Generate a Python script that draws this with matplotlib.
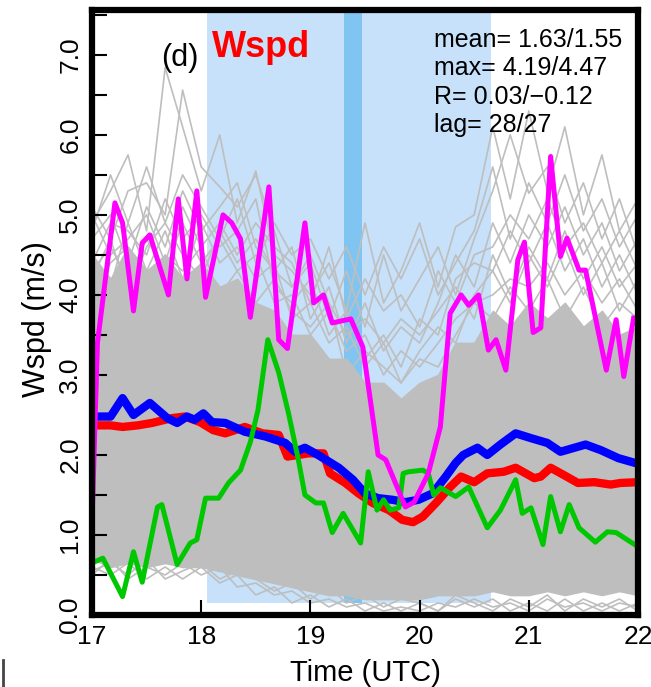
import matplotlib
matplotlib.use("Agg")
import matplotlib.pyplot as plt
from matplotlib.lines import Line2D
from matplotlib.ticker import MultipleLocator, FuncFormatter

plt.rcParams['font.family'] = ['Liberation Sans', 'DejaVu Sans']

# observed / simulated wind speed traces (time in UTC hours, m/s)
mag_t = [17.0, 17.05, 17.21, 17.28, 17.38, 17.46, 17.53, 17.70, 17.79, 17.87, 17.96, 18.04, 18.20,
         18.28, 18.36, 18.45, 18.62, 18.71, 18.79, 18.95, 19.03, 19.12, 19.20, 19.37, 19.48, 19.62,
         19.69, 19.87, 19.95, 20.08, 20.19, 20.28, 20.38, 20.45, 20.54, 20.63, 20.70, 20.79, 20.90,
         20.96, 21.04, 21.11, 21.20, 21.29, 21.35, 21.46, 21.52, 21.71, 21.80, 21.87, 21.96]
mag_v = [1.15, 3.4, 5.15, 4.9, 3.8, 4.65, 4.75, 4.0, 5.2, 4.2, 5.3, 3.97, 5.0,
         4.9, 4.7, 3.72, 5.35, 3.44, 3.33, 4.9, 3.9, 4.0, 3.65, 3.7, 3.35, 2.0,
         1.94, 1.35, 1.41, 1.77, 2.35, 3.77, 4.0, 3.87, 4.0, 3.31, 3.44, 3.06, 4.44,
         4.66, 3.53, 3.59, 5.73, 4.48, 4.71, 4.31, 4.31, 3.06, 3.69, 2.98, 3.71]

blue_t = [17.0, 17.17, 17.28, 17.38, 17.53, 17.69, 17.78, 17.87, 17.94, 18.02, 18.10, 18.22, 18.40,
          18.59, 18.77, 18.86, 18.95, 19.07, 19.26, 19.39, 19.50, 19.62, 19.75, 19.87, 19.99, 20.12,
          20.24, 20.33, 20.40, 20.53, 20.62, 20.74, 20.88, 21.02, 21.17, 21.29, 21.52, 21.66, 21.82, 22.0]
blue_v = [2.48, 2.48, 2.71, 2.50, 2.65, 2.46, 2.40, 2.48, 2.44, 2.52, 2.41, 2.40, 2.29,
          2.23, 2.15, 2.04, 2.09, 2.00, 1.84, 1.69, 1.52, 1.46, 1.44, 1.41, 1.44, 1.52,
          1.73, 1.90, 2.00, 2.09, 2.00, 2.13, 2.27, 2.21, 2.15, 2.04, 2.13, 2.06, 1.96, 1.89]

red_t = [17.0, 17.17, 17.28, 17.42, 17.55, 17.73, 17.85, 17.99, 18.11, 18.22, 18.40, 18.56, 18.71,
         18.79, 18.89, 18.98, 19.12, 19.18, 19.32, 19.44, 19.57, 19.72, 19.84, 19.94, 20.03, 20.15,
         20.28, 20.38, 20.50, 20.62, 20.77, 20.88, 21.05, 21.11, 21.20, 21.32, 21.45, 21.60, 21.75,
         21.84, 22.0]
red_v = [2.37, 2.37, 2.35, 2.37, 2.40, 2.46, 2.48, 2.41, 2.31, 2.27, 2.35, 2.27, 2.25,
         1.98, 2.00, 2.02, 2.02, 1.77, 1.65, 1.52, 1.40, 1.31, 1.19, 1.16, 1.23, 1.40,
         1.60, 1.73, 1.66, 1.77, 1.79, 1.84, 1.71, 1.73, 1.84, 1.75, 1.65, 1.66, 1.63,
         1.65, 1.66]

green_t = [17.0, 17.10, 17.28, 17.38, 17.46, 17.60, 17.64, 17.78, 17.90, 17.96, 18.04, 18.16, 18.25,
           18.36, 18.45, 18.52, 18.61, 18.71, 18.80, 18.89, 18.95, 19.05, 19.12, 19.20, 19.30, 19.46,
           19.53, 19.61, 19.67, 19.73, 19.81, 19.85, 19.90, 20.03, 20.08, 20.13, 20.19, 20.33, 20.45,
           20.62, 20.74, 20.88, 20.94, 21.02, 21.13, 21.20, 21.29, 21.37, 21.46, 21.61, 21.72, 21.80,
           21.97]
green_v = [0.65, 0.71, 0.23, 0.79, 0.41, 1.35, 1.38, 0.63, 0.90, 0.94, 1.46, 1.46, 1.65,
           1.81, 2.16, 2.56, 3.44, 3.03, 2.52, 1.94, 1.50, 1.40, 1.40, 1.03, 1.27, 0.90,
           1.79, 1.31, 1.44, 1.31, 1.34, 1.77, 1.79, 1.81, 1.77, 1.50, 1.59, 1.48, 1.60,
           1.09, 1.31, 1.69, 1.27, 1.34, 0.88, 1.48, 1.04, 1.38, 1.09, 0.91, 1.04, 1.03,
           0.88]

# ensemble members: dense core band plus the members sticking out of it (10-min steps)
ens_t = [17.0, 17.17, 17.33, 17.5, 17.67, 17.83, 18.0, 18.17, 18.33, 18.5, 18.67, 18.83, 19.0,
         19.17, 19.33, 19.5, 19.67, 19.83, 20.0, 20.17, 20.33, 20.5, 20.67, 20.83, 21.0, 21.17,
         21.33, 21.5, 21.67, 21.83, 22.0]
core_hi = [4.5, 4.2, 4.6, 4.3, 4.5, 4.2, 4.4, 4.1, 4.2, 3.9, 3.8, 3.5, 3.5, 3.2, 3.2, 2.9,
           2.9, 2.7, 2.9, 3.0, 3.4, 3.4, 3.8, 3.6, 3.9, 3.7, 3.9, 3.6, 3.8, 3.5, 3.6]
core_lo = [0.7, 0.6, 0.65, 0.6, 0.65, 0.6, 0.6, 0.55, 0.5, 0.45, 0.4, 0.35, 0.3, 0.25, 0.25, 0.2,
           0.2, 0.2, 0.2, 0.25, 0.25, 0.25, 0.3, 0.25, 0.25, 0.3, 0.25, 0.3, 0.25, 0.3, 0.25]
ens_members = [
    [4.9, 5.3, 5.75, 4.8, 6.84, 6.1, 5.3, 6.0, 4.9, 5.55, 4.5, 4.3, 4.0, 4.4, 3.8, 4.9,
     3.9, 4.3, 4.9, 4.1, 4.85, 5.0, 6.1, 5.2, 6.3, 5.3, 6.1, 5.0, 5.75, 4.8, 5.2],
    [5.1, 4.7, 5.3, 5.4, 5.0, 6.56, 5.6, 5.35, 5.1, 5.5, 4.8, 4.1, 4.4, 3.7, 4.3, 3.6,
     4.5, 3.8, 4.2, 4.6, 4.0, 4.7, 5.3, 6.0, 5.27, 5.6, 4.9, 5.4, 4.7, 5.2, 4.5],
    [4.7, 5.0, 4.4, 5.1, 4.6, 5.3, 4.8, 5.1, 5.4, 4.6, 4.3, 4.6, 3.7, 4.1, 3.4, 3.9,
     3.3, 3.6, 3.4, 3.9, 4.5, 4.1, 4.9, 4.4, 5.0, 4.6, 5.1, 4.5, 4.9, 4.3, 4.7],
    [4.4, 4.9, 4.8, 4.5, 5.2, 4.7, 5.0, 4.6, 4.8, 5.2, 4.1, 3.9, 4.2, 3.5, 3.8, 3.2,
     3.5, 3.1, 3.7, 3.5, 4.2, 4.4, 4.3, 4.8, 4.4, 4.9, 4.3, 4.7, 4.1, 4.5, 4.0],
    [4.3, 4.6, 4.2, 4.7, 4.3, 4.9, 4.4, 4.7, 4.3, 4.5, 3.9, 4.0, 3.5, 3.8, 3.3, 3.5,
     3.0, 3.3, 3.1, 3.4, 3.7, 3.9, 4.0, 4.2, 4.1, 4.4, 4.0, 4.3, 3.9, 4.2, 3.8],
    [4.5, 4.1, 4.9, 4.3, 4.8, 4.2, 4.9, 4.4, 4.6, 4.2, 4.4, 3.7, 3.9, 3.4, 3.6, 3.1,
     3.4, 2.9, 3.3, 3.6, 3.4, 4.0, 4.3, 3.9, 4.5, 4.1, 4.6, 4.0, 4.4, 3.8, 4.2],
    [5.0, 4.5, 4.7, 5.0, 4.4, 5.1, 4.6, 4.9, 4.5, 4.9, 4.6, 4.4, 3.9, 4.6, 3.7, 4.2,
     3.8, 4.0, 3.6, 4.3, 3.9, 4.5, 4.6, 5.0, 4.7, 5.2, 4.6, 4.9, 4.4, 4.8, 4.3],
    [4.2, 4.7, 4.0, 4.6, 4.9, 4.5, 4.2, 4.8, 4.4, 4.7, 4.3, 4.1, 4.5, 3.9, 3.5, 3.7,
     3.4, 3.7, 3.5, 3.8, 4.1, 3.7, 4.5, 4.0, 4.6, 4.2, 4.8, 4.2, 4.6, 4.1, 4.4],
    [4.8, 5.5, 4.9, 5.6, 4.9, 5.5, 5.1, 4.7, 5.2, 4.4, 4.9, 4.5, 4.7, 4.2, 4.6, 4.0,
     4.6, 4.2, 4.7, 4.0, 4.4, 4.8, 5.6, 4.7, 5.4, 4.9, 5.5, 4.8, 5.2, 4.6, 5.0],
    [3.9, 4.4, 4.6, 4.1, 4.5, 4.3, 4.6, 4.0, 4.3, 3.9, 4.2, 3.8, 3.6, 3.9, 3.0, 3.3,
     3.1, 2.9, 3.2, 3.1, 3.5, 3.9, 3.7, 4.1, 3.8, 4.2, 3.7, 4.1, 3.6, 3.9, 3.7],
    [0.5, 0.7, 0.45, 0.6, 0.5, 0.65, 0.5, 0.6, 0.35, 0.4, 0.25, 0.3, 0.15, 0.2, 0.1, 0.15,
     0.05, 0.1, 0.05, 0.15, 0.1, 0.2, 0.1, 0.15, 0.05, 0.2, 0.1, 0.15, 0.05, 0.15, 0.1],
    [0.6, 0.5, 0.65, 0.45, 0.6, 0.45, 0.6, 0.4, 0.5, 0.25, 0.35, 0.15, 0.25, 0.1, 0.2, 0.05,
     0.15, 0.05, 0.15, 0.05, 0.2, 0.1, 0.2, 0.05, 0.15, 0.05, 0.2, 0.05, 0.15, 0.05, 0.15],
    [0.55, 0.65, 0.5, 0.7, 0.45, 0.55, 0.65, 0.45, 0.55, 0.45, 0.3, 0.4, 0.2, 0.35, 0.15, 0.25,
     0.1, 0.2, 0.15, 0.05, 0.25, 0.15, 0.05, 0.2, 0.1, 0.25, 0.05, 0.2, 0.1, 0.2, 0.05],
]

# shaded periods
shade_span = (18.05, 20.65)
band_span = (19.31, 19.47)
shade_floor = 0.15

stats_lines = ["mean= 1.63/1.55", "max= 4.19/4.47", "R= 0.03/\u22120.12", "lag= 28/27"]

YTOP = 7.56

fig = plt.figure(figsize=(6.51, 6.87), dpi=100)
ax = fig.add_axes([0.1413, 0.1048, 0.8387, 0.8806])
ax.set_xlim(17, 22)
ax.set_ylim(0, YTOP)

ax.axvspan(*shade_span, ymin=shade_floor / YTOP, ymax=1, color='#c6e1f9', lw=0, zorder=0)
ax.axvspan(*band_span, ymin=shade_floor / YTOP, ymax=1, color='#80c5f2', lw=0, zorder=0.5)

ax.fill_between(ens_t, core_lo, core_hi, color='#bebebe', lw=1.2, edgecolor='#bebebe', zorder=1)
for m in ens_members:
    ax.plot(ens_t, m, color='#bebebe', lw=1.2, zorder=1)

ax.plot(red_t, red_v, color='#ff0000', lw=6, solid_joinstyle='round', zorder=2)
ax.plot(blue_t, blue_v, color='#0000ff', lw=6, solid_joinstyle='round', zorder=3)
ax.plot(green_t, green_v, color='#00c800', lw=3.6, solid_joinstyle='round', zorder=4)
ax.plot(mag_t, mag_v, color='#ff00ff', lw=3.6, solid_joinstyle='round', zorder=5)

ax.text(17.807, 6.86, "(d)", fontsize=22, ha='center', va='baseline', zorder=6)
ax.text(18.10, 6.975, "Wspd", fontsize=26, fontweight='bold', color='#ff0000',
        ha='left', va='baseline', zorder=6)
for i, s in enumerate(stats_lines):
    ax.text(20.128, 7.10 - i * 0.355, s, fontsize=18, ha='left', va='baseline', zorder=6)

ax.xaxis.set_major_locator(MultipleLocator(1))
ax.yaxis.set_major_locator(MultipleLocator(0.5))
ax.yaxis.set_major_formatter(FuncFormatter(lambda v, p: f"{v:.1f}" if abs(v - round(v)) < 1e-6 else ""))
ax.tick_params(direction='in', length=11, width=1.5, labelsize=19, pad=7)
ax.tick_params(axis='y', labelrotation=90)
for lab in ax.get_yticklabels():
    lab.set_va('center')

for sp in ax.spines.values():
    sp.set_linewidth(4.5)
    sp.set_zorder(7)

ax.set_xlabel("Time (UTC)", fontsize=21, va='center')
ax.xaxis.set_label_coords(0.5, -0.096)
ax.set_ylabel("Wspd (m/s)", fontsize=22, va='center')
ax.yaxis.set_label_coords(-0.101, 0.49)

fig.add_artist(Line2D([0.004, 0.004], [0.0, 0.039], color='#444444', lw=2, transform=fig.transFigure))

fig.savefig("out.png", dpi=100)
